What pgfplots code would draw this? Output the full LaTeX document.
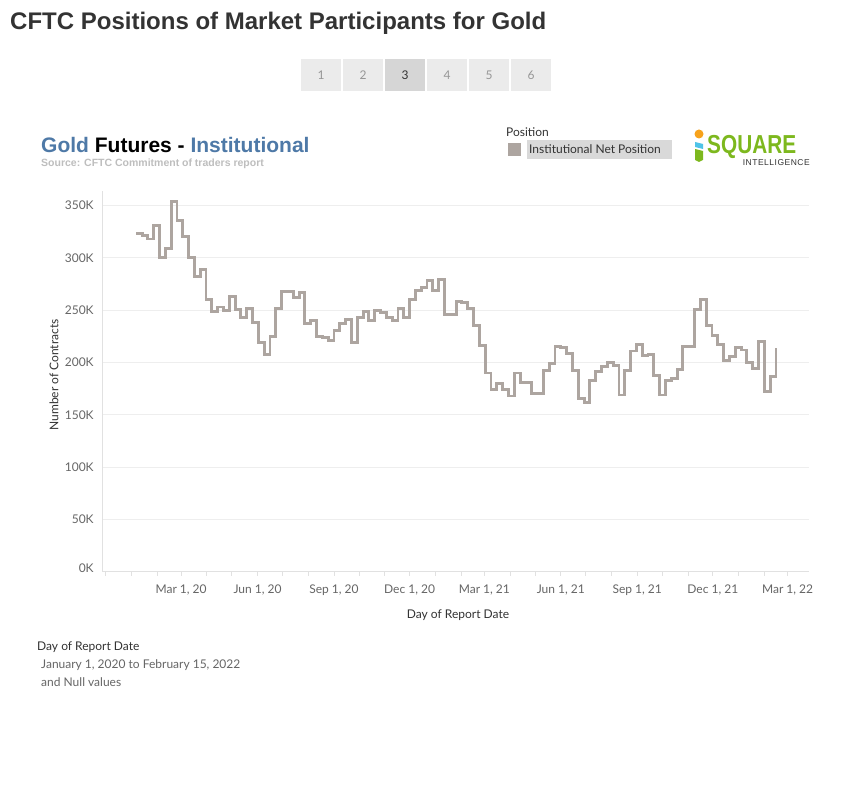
\documentclass[border=0pt]{standalone}
\usepackage{pgfplots}
\pgfplotsset{compat=1.18}
\usepackage{fontspec}
\setmainfont{Lato}
\newfontfamily\arialf{Liberation Sans}
\definecolor{titlegray}{RGB}{51,51,51}
\definecolor{ticktext}{RGB}{102,102,102}
\definecolor{linegray}{RGB}{173,165,160}
\definecolor{gridc}{RGB}{238,238,238}
\definecolor{axisc}{RGB}{225,225,225}
\definecolor{tabblue}{RGB}{78,121,167}
\definecolor{srcgray}{RGB}{190,190,190}
\definecolor{btn}{RGB}{235,235,235}
\definecolor{btnsel}{RGB}{214,214,214}
\definecolor{btntext}{RGB}{150,150,150}
\definecolor{legbox}{RGB}{217,217,217}
\definecolor{logogreen}{RGB}{125,184,30}
\definecolor{logoorange}{RGB}{247,162,27}
\definecolor{logocyan}{RGB}{79,195,232}
\pgfplotstableread{
day val
6 323
13 321
20 318
27 331
34 300
41 309
48 354
55 336
62 320
69 300
76 282
83 289
90 260
97 249
104 253
111 250
118 263
125 251
132 243
139 252
146 238
153 219
160 208
167 225
174 252
181 268
188 268
195 262
202 267
209 237
216 240
223 225
230 224
237 221
244 231
251 237
258 241
265 219
272 243
279 249
286 240
293 250
300 248
307 243
314 240
321 252
328 243
335 260
342 269
349 272
356 278
363 269
370 279
377 246
384 246
391 258
398 257
405 252
412 235
419 216
426 190
433 174
440 180
447 174
454 168
461 190
468 181
475 181
482 170
489 170
496 192
503 199
510 215
517 214
524 209
531 192
538 166
545 162
552 183
559 191
566 196
573 200
580 197
587 169
594 192
601 211
608 217
615 207
622 208
629 188
636 169
643 183
650 185
657 193
664 215
671 215
678 251
685 260
692 235
699 226
706 217
713 202
720 206
727 214
734 212
741 200
748 194
755 220
762 172
769 187
776 214
}\goldtable
\begin{document}
\begin{tikzpicture}[x=1bp,y=1bp]
\path[fill=white] (0,0) rectangle (849,799);
% main title
\node[anchor=base west, inner sep=0, text=titlegray, font=\arialf\bfseries\fontsize{24bp}{28bp}\selectfont] at (10,769) {CFTC Positions of Market Participants for Gold};
% page buttons
\foreach \i in {0,...,5}{
  \pgfmathsetmacro{\xa}{301+42*\i}
  \ifnum\i=2
    \fill[btnsel] (\xa,708) rectangle ++(40,32);
    \node[text=titlegray, font=\fontsize{12bp}{14bp}\selectfont, inner sep=0] at (\xa+20,724) {\the\numexpr\i+1\relax};
  \else
    \fill[btn] (\xa,708) rectangle ++(40,32);
    \node[text=btntext, font=\fontsize{12bp}{14bp}\selectfont, inner sep=0] at (\xa+20,724) {\the\numexpr\i+1\relax};
  \fi
}
% chart title
\node[anchor=base west, inner sep=0, font=\arialf\bfseries\fontsize{21bp}{24bp}\selectfont] at (41,646) {\textcolor{tabblue}{Gold} Futures - \textcolor{tabblue}{Institutional}};
\node[anchor=base west, inner sep=0, text=srcgray, font=\arialf\bfseries\fontsize{10.5bp}{12bp}\selectfont] at (41,632) {Source: CFTC Commitment of traders report};
% legend
\node[anchor=base west, inner sep=0, text=titlegray, font=\fontsize{12bp}{14bp}\selectfont] at (506,662) {Position};
\fill[linegray] (508,643) rectangle (521,656);
\fill[legbox] (527,640) rectangle (672,659);
\node[anchor=base west, inner sep=0, text=titlegray, font=\fontsize{12bp}{14bp}\selectfont] at (529,645) {Institutional Net Position};
% logo
\fill[logoorange] (699,665) circle (4.5);
\fill[logocyan] (695,657) -- (703,655) -- (703,650) -- (695,652) -- cycle;
\fill[logogreen] (695,650) -- (703,648) -- (703,639) -- (699,637) -- (695,639) -- cycle;
\node[anchor=base west, inner sep=0, text=logogreen, font=\arialf\bfseries\fontsize{26bp}{30bp}\selectfont] at (707,645) {\scalebox{0.8}[1]{SQUARE}};
\node[anchor=base east, inner sep=0, text=titlegray, font=\arialf\fontsize{8.5bp}{10bp}\selectfont] at (810,633) {\addfontfeature{LetterSpace=6}INTELLIGENCE};
% axis
\begin{axis}[
  at={(123,217)}, anchor=south west,
  scale only axis, width=707bp, height=381bp,
  xmin=-35, xmax=816, ymin=0, ymax=364,
  axis x line*=bottom, axis y line*=left,
  axis line style={axisc, line width=0.8bp, -},
  xtick={60,152,244,335,425,517,609,700,790},
  xticklabels={{Mar 1, 20},{Jun 1, 20},{Sep 1, 20},{Dec 1, 20},{Mar 1, 21},{Jun 1, 21},{Sep 1, 21},{Dec 1, 21},{Mar 1, 22}},
  minor xtick={-31,0,31,91,121,182,213,274,305,366,397,456,486,547,578,639,670,731,762},
  tick align=outside,
  major tick length=4bp, minor tick length=4bp,
  every tick/.style={axisc, line width=0.8bp},
  ytick={0,50,100,150,200,250,300,350},
  yticklabels={\raisebox{8bp}{0K},50K,100K,150K,200K,250K,300K,350K},
  ytick style={draw=none},
  ymajorgrids, grid style={gridc, line width=0.8bp},
  ticklabel style={text=ticktext, font=\fontsize{12bp}{14bp}\selectfont},
  xticklabel style={yshift=-5bp},
  yticklabel style={xshift=-1bp},
  /pgf/number format/assume math mode=true,
]
\addplot[const plot, linegray, line width=2.9bp] table[x=day, y=val] {\goldtable};
\end{axis}
% axis titles
\node[rotate=90, text=titlegray, font=\fontsize{12bp}{14bp}\selectfont, inner sep=0] at (54,424) {Number of Contracts};
\node[anchor=base, text=titlegray, font=\fontsize{12bp}{14bp}\selectfont, inner sep=0] at (458,180) {Day of Report Date};
% footnote
\node[anchor=base west, inner sep=0, text=titlegray, font=\fontsize{12bp}{14bp}\selectfont] at (37,148) {Day of Report Date};
\node[anchor=base west, inner sep=0, text=ticktext, font=\fontsize{12bp}{14bp}\selectfont] at (41,130) {January 1, 2020 to February 15, 2022};
\node[anchor=base west, inner sep=0, text=ticktext, font=\fontsize{12bp}{14bp}\selectfont] at (41,112) {and Null values};
\end{tikzpicture}
\end{document}
